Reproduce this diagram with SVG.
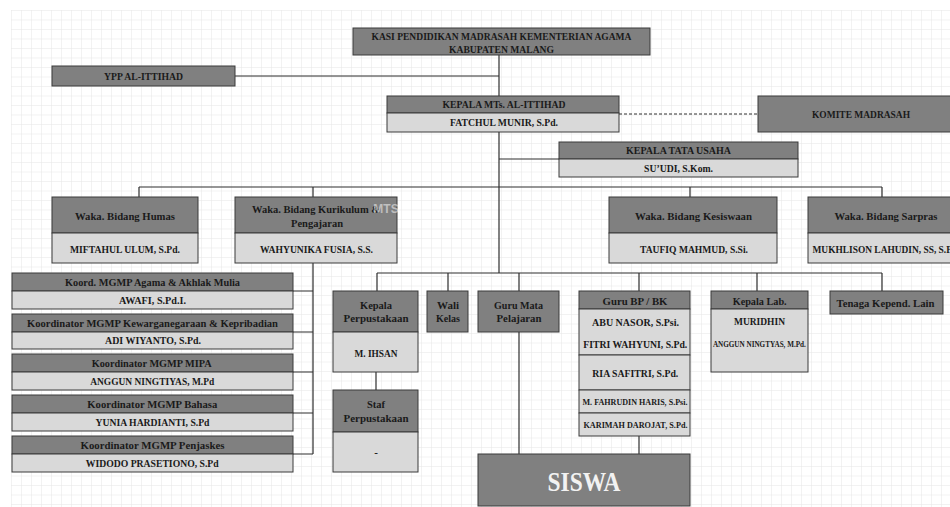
<svg xmlns="http://www.w3.org/2000/svg" width="950" height="507" viewBox="0 0 950 507">
<defs>
<pattern id="grid" x="11" y="10" width="10" height="9.5" patternUnits="userSpaceOnUse">
<path d="M0 0 V9.5 M0 0 H10" fill="none" stroke="#e6e6e6" stroke-width="1"/>
</pattern>
</defs>
<style>
.hd{fill:#808080;stroke:#3a3a3a;stroke-width:1}
.lt{fill:#d9d9d9;stroke:#3a3a3a;stroke-width:1}
.t{font-family:"Liberation Serif",serif;font-weight:bold;font-size:11px;fill:#1a1a1a;text-anchor:middle}
.s8{font-size:8.5px}
.s7{font-size:7.5px}
.ln{fill:none;stroke:#2e2e2e;stroke-width:1.2}
.dash{fill:none;stroke:#2e2e2e;stroke-width:1;stroke-dasharray:3 2}
</style>
<rect x="0" y="0" width="950" height="507" fill="#ffffff"/>
<rect x="11" y="10" width="939" height="497" fill="url(#grid)"/>

<g id="connectors">
<path class="ln" d="M499 55 V273"/>
<path class="ln" d="M235 76 H499"/>
<path class="dash" d="M619 114 H758"/>
<path class="ln" d="M499 159 H559"/>
<path class="ln" d="M139 187 H882 M139 187 V197 M313 187 V197 M690 187 V197 M882 187 V197"/>
<path class="ln" d="M313 263 V454 M293 291 H313 M293 332 H313 M293 372 H313 M293 413 H313 M293 454 H313"/>
<path class="ln" d="M377 273 H882 M377 273 V291 M448 273 V291 M519 273 V291 M639 273 V291 M757 273 V291 M882 273 V291"/>
<path class="ln" d="M376 372 V390"/>
<path class="ln" d="M519 332 V454"/>
<path class="ln" d="M639 436 V454"/>
</g>

<g id="kasi">
<rect class="hd" x="353" y="28" width="297" height="27" fill="#7a7a7a"/>
<text class="t" x="501.5" y="39.8" textLength="260" lengthAdjust="spacingAndGlyphs">KASI PENDIDIKAN MADRASAH KEMENTERIAN AGAMA</text>
<text class="t" x="501.5" y="52.8" textLength="105" lengthAdjust="spacingAndGlyphs">KABUPATEN MALANG</text>
</g>

<g id="ypp">
<rect class="hd" x="52" y="66" width="183" height="20"/>
<text class="t" x="143.5" y="79.8" textLength="79" lengthAdjust="spacingAndGlyphs">YPP AL-ITTIHAD</text>
</g>

<g id="kepala">
<rect class="hd" x="387" y="96" width="232" height="17"/>
<rect class="lt" x="387" y="113" width="232" height="19"/>
<text class="t" x="504" y="108.3" textLength="123" lengthAdjust="spacingAndGlyphs">KEPALA MTs. AL-ITTIHAD</text>
<text class="t" x="504" y="126.3" textLength="108" lengthAdjust="spacingAndGlyphs">FATCHUL MUNIR, S.Pd.</text>
</g>

<g id="komite">
<rect class="hd" x="758" y="96" width="206" height="36"/>
<text class="t" x="861" y="117.8" textLength="98" lengthAdjust="spacingAndGlyphs">KOMITE MADRASAH</text>
</g>

<g id="tatausaha">
<rect class="hd" x="559" y="142" width="239" height="17"/>
<rect class="lt" x="559" y="159" width="239" height="18"/>
<text class="t" x="678.5" y="154.3" textLength="105" lengthAdjust="spacingAndGlyphs">KEPALA TATA USAHA</text>
<text class="t" x="678.5" y="171.8" textLength="69" lengthAdjust="spacingAndGlyphs">SU’UDI, S.Kom.</text>
</g>

<g id="humas">
<rect class="hd" x="52" y="197" width="146" height="36"/>
<rect class="lt" x="52" y="233" width="146" height="30"/>
<text class="t" x="125" y="219.8" textLength="100" lengthAdjust="spacingAndGlyphs">Waka. Bidang Humas</text>
<text class="t" x="125" y="253" textLength="110" lengthAdjust="spacingAndGlyphs">MIFTAHUL ULUM, S.Pd.</text>
</g>

<g id="kurikulum">
<rect class="hd" x="235" y="197" width="162" height="36"/>
<rect class="lt" x="235" y="233" width="162" height="30"/>
<text class="t" x="316" y="213" textLength="128" lengthAdjust="spacingAndGlyphs">Waka. Bidang Kurikulum &amp;</text>
<text class="t" x="317" y="226.5" textLength="52" lengthAdjust="spacingAndGlyphs">Pengajaran</text>
<text class="t" x="316.5" y="253" textLength="113" lengthAdjust="spacingAndGlyphs">WAHYUNIKA FUSIA, S.S.</text>
<text x="386" y="213" font-family="Liberation Sans, sans-serif" font-weight="bold" font-size="12" fill="#ffffff" fill-opacity="0.5" text-anchor="middle">MTS</text>
</g>

<g id="kesiswaan">
<rect class="hd" x="609" y="197" width="168" height="36"/>
<rect class="lt" x="609" y="233" width="168" height="30"/>
<text class="t" x="693.5" y="219.8" textLength="117" lengthAdjust="spacingAndGlyphs">Waka. Bidang Kesiswaan</text>
<text class="t" x="694" y="253" textLength="108" lengthAdjust="spacingAndGlyphs">TAUFIQ MAHMUD, S.Si.</text>
</g>

<g id="sarpras">
<rect class="hd" x="808" y="197" width="156" height="36"/>
<rect class="lt" x="808" y="233" width="156" height="30"/>
<text class="t" x="886" y="219.8" textLength="103" lengthAdjust="spacingAndGlyphs">Waka. Bidang Sarpras</text>
<text class="t" x="886" y="253" textLength="147" lengthAdjust="spacingAndGlyphs">MUKHLISON LAHUDIN, SS, S.Pd.</text>
</g>

<g id="mgmp-agama">
<rect class="hd" x="12" y="273" width="281" height="18"/>
<rect class="lt" x="12" y="291" width="281" height="18"/>
<text class="t" x="152.5" y="285.8" textLength="175" lengthAdjust="spacingAndGlyphs">Koord. MGMP Agama &amp; Akhlak Mulia</text>
<text class="t" x="152.5" y="303.8" textLength="67" lengthAdjust="spacingAndGlyphs">AWAFI, S.Pd.I.</text>
</g>

<g id="mgmp-pkn">
<rect class="hd" x="12" y="314" width="281" height="18"/>
<rect class="lt" x="12" y="332" width="281" height="17"/>
<text class="t" x="152.5" y="326.8" textLength="251" lengthAdjust="spacingAndGlyphs">Koordinator MGMP Kewarganegaraan &amp; Kepribadian</text>
<text class="t" x="153" y="344.3" textLength="96" lengthAdjust="spacingAndGlyphs">ADI WIYANTO, S.Pd.</text>
</g>

<g id="mgmp-mipa">
<rect class="hd" x="12" y="354" width="281" height="18"/>
<rect class="lt" x="12" y="372" width="281" height="18"/>
<text class="t" x="151.7" y="366.8" textLength="120" lengthAdjust="spacingAndGlyphs">Koordinator MGMP MIPA</text>
<text class="t" x="152.2" y="384.8" textLength="124" lengthAdjust="spacingAndGlyphs">ANGGUN NINGTIYAS, M.Pd</text>
</g>

<g id="mgmp-bahasa">
<rect class="hd" x="12" y="395" width="281" height="18"/>
<rect class="lt" x="12" y="413" width="281" height="18"/>
<text class="t" x="152.3" y="407.8" textLength="130" lengthAdjust="spacingAndGlyphs">Koordinator MGMP  Bahasa</text>
<text class="t" x="152.5" y="425.8" textLength="114" lengthAdjust="spacingAndGlyphs">YUNIA HARDIANTI, S.Pd</text>
</g>

<g id="mgmp-penjaskes">
<rect class="hd" x="12" y="436" width="281" height="18"/>
<rect class="lt" x="12" y="454" width="281" height="18"/>
<text class="t" x="152.5" y="448.8" textLength="144" lengthAdjust="spacingAndGlyphs">Koordinator MGMP  Penjaskes</text>
<text class="t" x="152.2" y="466.8" textLength="133" lengthAdjust="spacingAndGlyphs">WIDODO PRASETIONO, S.Pd</text>
</g>

<g id="perpustakaan">
<rect class="hd" x="333" y="291" width="85" height="41"/>
<rect class="lt" x="333" y="332" width="85" height="40"/>
<text class="t" x="376" y="308.8" textLength="32" lengthAdjust="spacingAndGlyphs">Kepala</text>
<text class="t" x="376" y="322.1" textLength="65" lengthAdjust="spacingAndGlyphs">Perpustakaan</text>
<text class="t" x="376" y="356.5" textLength="43" lengthAdjust="spacingAndGlyphs">M. IHSAN</text>
</g>

<g id="staf-perpustakaan">
<rect class="hd" x="333" y="390" width="85" height="42"/>
<rect class="lt" x="333" y="432" width="85" height="40"/>
<text class="t" x="376" y="408.1" textLength="18" lengthAdjust="spacingAndGlyphs">Staf</text>
<text class="t" x="376" y="421.5" textLength="65" lengthAdjust="spacingAndGlyphs">Perpustakaan</text>
<text class="t" x="376" y="455.5">-</text>
</g>

<g id="wali-kelas">
<rect class="hd" x="427" y="291" width="41" height="41"/>
<text class="t" x="448" y="308.8" textLength="22" lengthAdjust="spacingAndGlyphs">Wali</text>
<text class="t" x="448" y="322.3" textLength="24" lengthAdjust="spacingAndGlyphs">Kelas</text>
</g>

<g id="guru-mapel">
<rect class="hd" x="478" y="291" width="81" height="41"/>
<text class="t" x="518.5" y="308.8" textLength="49" lengthAdjust="spacingAndGlyphs">Guru Mata</text>
<text class="t" x="519" y="322.3" textLength="45" lengthAdjust="spacingAndGlyphs">Pelajaran</text>
</g>

<g id="guru-bk">
<rect class="hd" x="579" y="291" width="111" height="18"/>
<rect class="lt" x="579" y="309" width="111" height="46"/>
<rect class="lt" x="579" y="355" width="111" height="35"/>
<rect class="lt" x="579" y="390" width="111" height="23"/>
<rect class="lt" x="579" y="413" width="111" height="23"/>
<text class="t" x="635" y="304.5" textLength="65" lengthAdjust="spacingAndGlyphs">Guru BP / BK</text>
<text class="t" x="635.5" y="325.5" textLength="87" lengthAdjust="spacingAndGlyphs">ABU NASOR, S.Psi.</text>
<text class="t" x="635.3" y="348.1" textLength="104" lengthAdjust="spacingAndGlyphs">FITRI WAHYUNI, S.Pd.</text>
<text class="t" x="635.3" y="377.1" textLength="86" lengthAdjust="spacingAndGlyphs">RIA SAFITRI, S.Pd.</text>
<text class="t s8" x="635" y="405" textLength="105" lengthAdjust="spacingAndGlyphs">M. FAHRUDIN HARIS, S.Psi.</text>
<text class="t s8" x="635.5" y="428.3" textLength="104" lengthAdjust="spacingAndGlyphs">KARIMAH DAROJAT, S.Pd.</text>
</g>

<g id="kepala-lab">
<rect class="hd" x="711" y="291" width="97" height="18"/>
<rect class="lt" x="711" y="309" width="97" height="63"/>
<text class="t" x="759.7" y="304.5" textLength="54" lengthAdjust="spacingAndGlyphs">Kepala Lab.</text>
<text class="t" x="759.5" y="324.8" textLength="51" lengthAdjust="spacingAndGlyphs">MURIDHIN</text>
<text class="t s7" x="759.4" y="346.7" textLength="93" lengthAdjust="spacingAndGlyphs">ANGGUN NINGTYAS, M.Pd.</text>
</g>

<g id="tenaga">
<rect class="hd" x="830" y="291" width="113" height="23"/>
<text class="t" x="885.5" y="307.1" textLength="98" lengthAdjust="spacingAndGlyphs">Tenaga Kepend. Lain</text>
</g>

<g id="siswa">
<rect class="hd" x="478" y="454" width="212" height="52" fill="#707070"/>
<text class="t" x="584" y="491.3" style="font-size:27px;fill:#f2f2f2" textLength="73" lengthAdjust="spacingAndGlyphs">SISWA</text>
</g>
</svg>
